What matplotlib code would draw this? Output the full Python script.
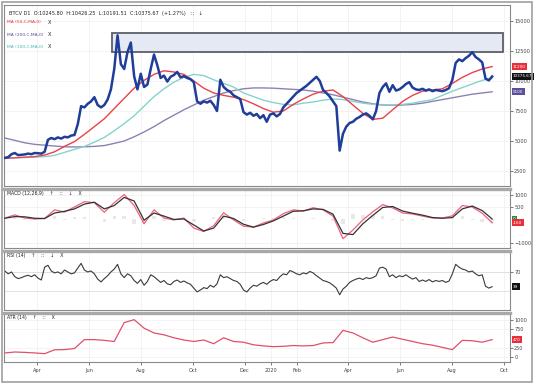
import pandas as pd
import matplotlib.pyplot as plt
from matplotlib.patches import Rectangle

# price closes, one every ~4 days
price_dates = pd.date_range('2019-02-22', '2020-09-17', periods=148)
price = [3600, 3650, 3900, 4000, 3820, 3850, 3880, 3950, 3900, 4000, 3980, 3950, 4100,
         5100, 5250, 5150, 5300, 5200, 5350, 5300, 5450, 5500, 6400, 7900, 7800, 8100,
         8300, 8650, 8000, 7800, 8000, 8450, 9300, 11000, 13800, 11400, 11000, 12400,
         13200, 10400, 9300, 10600, 9500, 9700, 11000, 12200, 11300, 10250, 10450, 9950,
         10350, 10500, 10750, 10300, 10400, 10250, 10150, 9900, 8300, 8100, 8300, 8200,
         8350, 8000, 7500, 10100, 9500, 9250, 9100, 8800, 8650, 8500, 7400, 7200, 7350,
         7100, 7250, 6900, 7150, 6600, 7200, 7300, 7050, 7250, 7800, 8100, 8400, 8700,
         9000, 9200, 9400, 9600, 9850, 10100, 10350, 10000, 9250, 9000, 8700, 8300, 7900,
         4200, 5600, 6200, 6500, 6600, 6850, 7000, 7200, 7300, 7100, 6800, 7500, 9000,
         9500, 9800, 9100, 9650, 9200, 9300, 9500, 9750, 9900, 9450, 9300, 9250, 9350,
         9200, 9300, 9150, 9250, 9200, 9150, 9250, 9400, 10100, 11500, 11800, 11650,
         11900, 12100, 12400, 12000, 11800, 11550, 10200, 10050, 10375]
rsi = [72, 66, 70, 60, 56, 58, 61, 63, 60, 64, 57, 53, 80, 84, 72, 68, 70, 66, 74, 70,
       66, 68, 78, 88, 74, 70, 72, 66, 55, 49, 56, 62, 70, 76, 86, 66, 58, 66, 62, 52,
       46, 54, 42, 50, 64, 60, 54, 48, 52, 45, 43, 50, 53, 48, 51, 47, 44, 36, 28, 32,
       37, 35, 42, 38, 45, 64, 58, 60, 56, 52, 50, 44, 32, 28, 36, 42, 40, 45, 48, 44,
       50, 54, 52, 60, 66, 64, 73, 70, 66, 64, 68, 66, 71, 68, 62, 57, 52, 50, 47, 42,
       36, 22, 34, 40, 48, 52, 55, 57, 54, 58, 56, 58, 62, 78, 80, 76, 60, 64, 58, 62,
       60, 64, 59, 55, 58, 50, 53, 50, 54, 49, 52, 50, 52, 48, 51, 66, 86, 80, 76, 74,
       70, 72, 66, 62, 64, 40, 36, 39]

# moving averages and other indicators, one every ~12 days
ind_dates = pd.date_range('2019-02-22', '2020-09-17', periods=50)
ma50 = [3550, 3600, 3650, 3700, 3830, 4100, 4550, 4950, 5550, 6200, 6850, 7700, 8550,
        9400, 10050, 10550, 10850, 10750, 10550, 10000, 9400, 9000, 8800, 8650, 8450,
        8100, 7700, 7400, 7500, 8050, 8500, 8900, 9150, 9250, 8700, 8000, 7300, 6800,
        6900, 7600, 8300, 8800, 9150, 9250, 9350, 9800, 10300, 10700, 11000, 11200]
ma100 = [3580, 3600, 3620, 3650, 3700, 3800, 4050, 4300, 4550, 4900, 5300, 5850, 6450,
         7100, 7900, 8700, 9350, 9900, 10300, 10550, 10450, 10100, 9800, 9500, 9000,
         8700, 8400, 8200, 8050, 8000, 8150, 8250, 8400, 8500, 8450, 8300, 8150, 8050,
         8000, 8000, 8050, 8150, 8300, 8450, 8800, 9150, 9450, 9750, 10050, 10250]
ma200 = [5250, 5050, 4850, 4720, 4650, 4580, 4520, 4500, 4520, 4550, 4620, 4800, 5000,
         5350, 5750, 6200, 6700, 7150, 7600, 8000, 8400, 8700, 9000, 9200, 9350, 9420,
         9420, 9400, 9350, 9300, 9250, 9150, 9000, 8850, 8650, 8450, 8250, 8100, 8000,
         7980, 8000, 8050, 8150, 8300, 8450, 8600, 8750, 8900, 9000, 9100]
macd = [40, 170, 40, 0, 20, 380, 290, 500, 720, 680, 280, 680, 1020, 560, -200, 380, 40,
        -40, 40, -380, -520, -280, 260, -40, -300, -340, -170, -40, 220, 380, 330, 470,
        380, 120, -820, -460, -40, 300, 600, 460, 250, 210, 120, 40, 40, 130, 560, 500,
        240, -160]
signal = [30, 100, 90, 30, 20, 250, 320, 420, 620, 700, 420, 560, 900, 750, -50, 250,
          120, -20, 0, -250, -500, -380, 120, 20, -220, -340, -230, -80, 120, 320, 340,
          420, 400, 200, -600, -650, -200, 150, 480, 520, 330, 240, 160, 60, 30, 60, 420,
          540, 350, 0]
hist = [10, 70, -50, -30, 0, 130, -30, 80, 100, -20, -140, 120, 120, -190, -150, 130,
        -80, -20, 40, -130, -20, 100, 140, -60, -80, 0, 60, 40, 100, 60, -10, 50, -20,
        -80, -220, 190, 160, 150, 120, -60, -80, -30, -40, -20, 10, 70, 140, -40, -110,
        -160]
atr = [110, 135, 125, 110, 90, 195, 200, 230, 470, 470, 450, 420, 930, 1010, 780, 650,
       600, 520, 460, 420, 460, 360, 520, 420, 400, 330, 300, 280, 290, 310, 300, 310,
       380, 390, 720, 650, 520, 400, 470, 540, 480, 420, 360, 320, 260, 200, 450, 440,
       400, 470]

zone_dates = ['2019-06-28', '2020-09-30']
zone_prices = [12420, 14000]

tick_dates = ['2019-04-01', '2019-06-01', '2019-08-01', '2019-10-01', '2019-12-01',
              '2020-01-01', '2020-02-01', '2020-04-01', '2020-06-01', '2020-08-01',
              '2020-10-01']
tick_labels = ['Apr', 'Jun', 'Aug', 'Oct', 'Dec', '2020', 'Feb', 'Apr', 'Jun', 'Aug', 'Oct']

title = 'BTCV D1  O:10245.80  H:10426.25  L:10191.51  C:10375.67  (+1.27%)'

W, H = 536, 384
fig = plt.figure(figsize=(W / 100, H / 100), dpi=100)


def box(top, bottom):
    return [4 / W, 1 - bottom / H, (510 - 4) / W, (bottom - top) / H]


def px(x, y):
    return x / W, 1 - y / H


ax = fig.add_axes(box(5, 186))
ax_macd = fig.add_axes(box(189, 248), sharex=ax)
ax_rsi = fig.add_axes(box(251, 310), sharex=ax)
ax_atr = fig.add_axes(box(313, 362), sharex=ax)
axes = [ax, ax_macd, ax_rsi, ax_atr]

# main price panel
z0, z1 = pd.to_datetime(zone_dates)
ax.add_patch(Rectangle((z0, zone_prices[0]), z1 - z0, zone_prices[1] - zone_prices[0],
                       fc='#e4e9f3', ec='#5b5f66', lw=1.3, zorder=1))
ax.plot(ind_dates, ma200, color='#8e80b5', lw=1.0, zorder=2)
ax.plot(ind_dates, ma100, color='#86d3cc', lw=1.0, zorder=2)
ax.plot(ind_dates, ma50, color='#e8424a', lw=1.0, zorder=3)
ax.plot(price_dates, price, color='#1f3d99', lw=1.8, zorder=4)
ax.set_ylim(1250, 16330)
ax.set_yticks([2500, 5000, 7500, 10000, 12500, 15000])

# macd
ax_macd.bar(ind_dates, hist, width=4, color='#e8e8e8', zorder=1)
ax_macd.plot(ind_dates, signal, color='#333333', lw=0.9, zorder=3)
ax_macd.plot(ind_dates, macd, color='#f0607a', lw=0.9, zorder=2)
ax_macd.set_ylim(-1210, 1250)
ax_macd.set_yticks([-1000, 500, 1000])

# rsi
for lvl in (30, 70):
    ax_rsi.axhline(lvl, color='#dddddd', lw=0.6, zorder=1)
ax_rsi.plot(price_dates, rsi, color='#3a3a3a', lw=0.8, zorder=2)
ax_rsi.set_ylim(-10, 114)
ax_rsi.set_yticks([70])

# atr
ax_atr.plot(ind_dates, atr, color='#e0506a', lw=0.9)
ax_atr.set_ylim(-135, 1190)
ax_atr.set_yticks([0, 250, 750, 1000])

ticks = pd.to_datetime(tick_dates)
for a in axes:
    a.yaxis.tick_right()
    a.tick_params(axis='y', labelsize=3.6, length=2, width=0.5, colors='#444444', pad=1)
    a.tick_params(axis='x', labelsize=3.6, length=2, width=0.5, colors='#444444', pad=2)
    a.set_xticks(ticks)
    a.grid(True, color='#eeeeee', lw=0.5)
    a.set_axisbelow(True)
    for s in a.spines.values():
        s.set_color('#8a8a8a')
        s.set_linewidth(0.8)
    if a is not ax:
        a.spines['top'].set_color('#a8a8a8')
        a.spines['top'].set_linewidth(2.4)
    if a is not ax_atr:
        a.tick_params(axis='x', labelbottom=False, length=0)
ax_atr.set_xticklabels(tick_labels)
ax.set_xlim(pd.Timestamp('2019-02-21'), pd.Timestamp('2020-10-08'))


def tag(a, val, txt, fc):
    a.text(1.006, val, txt, transform=a.get_yaxis_transform(), fontsize=3, color='white',
           va='center', ha='left', clip_on=False, zorder=10,
           bbox=dict(boxstyle='square,pad=0.35', fc=fc, ec='none'))


tag(ax, ma50[-1], f'{ma50[-1]}', '#e8303a')
tag(ax, price[-1], '10375.67', '#111111')
tag(ax, ma200[-1], f'{ma200[-1]}', '#5a4f9a')
tag(ax_macd, signal[-1], f'{signal[-1]}', '#2e8b3a')
tag(ax_macd, macd[-1], f'{macd[-1]}', '#e8303a')
tag(ax_rsi, rsi[-1], f'{rsi[-1]}', '#111111')
tag(ax_atr, atr[-1], f'{atr[-1]}', '#e8303a')

# header texts
fig.text(*px(9, 13), title + '   \u2237   \u2193', fontsize=3.6, color='#222222', va='center')
legend = [('MA (50,C,MA,0)', '#e8303a', 22), ('MA (200,C,MA,0)', '#5a4f9a', 35),
          ('MA (100,C,MA,0)', '#46b8ae', 47)]
for txt, c, y in legend:
    fig.text(*px(7, y), txt, fontsize=3.2, color=c, va='center')
    fig.text(*px(48, y), 'X', fontsize=3.6, color='#222222', va='center')
fig.text(*px(7, 194), 'MACD (12,26,9)    \u2191    \u2237    \u2193    X', fontsize=3.3,
         color='#222222', va='center')
fig.text(*px(7, 256), 'RSI (14)    \u2191    \u2237    \u2193    X', fontsize=3.3,
         color='#222222', va='center')
fig.text(*px(7, 317), 'ATR (14)    \u2191    \u2237    X', fontsize=3.3,
         color='#222222', va='center')

# outer frame
fig.patches.append(Rectangle(px(2, 382), 530 / W, 380 / H, transform=fig.transFigure,
                             fill=False, ec='#a0a0a0', lw=1.2))

fig.savefig('out.png', dpi=100)
